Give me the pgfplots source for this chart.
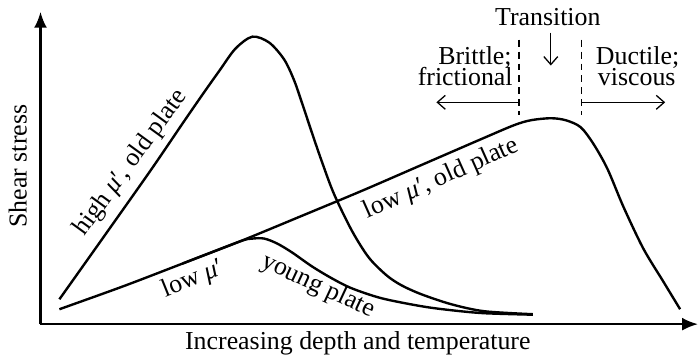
\documentclass[border=0pt]{standalone}
\usepackage{fontspec}
\setmainfont{Liberation Serif}
\usepackage{pgfplots}
\pgfplotsset{compat=1.18}
\usetikzlibrary{arrows.meta}
\begin{document}
\fontsize{13}{15.6}\selectfont
\begin{tikzpicture}[font=\fontsize{13}{15.6}\selectfont]
\begin{axis}[
  x=0.5pt, y=0.5pt,
  xmin=37, xmax=698, ymin=34, ymax=348,
  axis lines=left, ticks=none, clip=false,
  axis line style={line width=1.2pt, -{Latex[length=8pt,width=6.5pt]}},
  xlabel={Increasing depth and temperature},
  ylabel={Shear stress},
  xlabel style={at={(axis description cs:0.4826,-0.0796)}, anchor=base},
  ylabel style={at={(axis description cs:-0.0212,0.506)}, anchor=base},
]
\path (axis cs:0,0) rectangle (axis cs:700,357);
% high mu', old plate
\addplot[black, line width=1.2pt, smooth, tension=0.5] coordinates {
(56,59) (100,121) (148,189) (180,236) (200,265) (217,289) (233,311) (250,323)
(267,317) (282,300) (292,279) (300,256) (310,226) (320,197) (332,165) (350,128)
(367,101) (385,83) (400,73) (420,64) (450,54) (483,47) (532,44)};
% young plate
\addplot[black, line width=1.2pt, smooth, tension=0.5] coordinates {
(180,95) (237,117) (250,120) (262,120) (275,115) (290,106) (310,92) (330,80)
(350,70) (380,60) (420,52) (450,48) (483,45) (532,43.5)};
% low mu', old plate
\addplot[black, line width=1.2pt, smooth, tension=0.5] coordinates {
(56,49) (120,72) (180,95) (237,117) (300,143) (360,168) (420,194) (480,220)
(513,234) (530,239) (550,241) (565,239) (580,232) (593,215) (607,190) (623,152)
(643,110) (663,77) (680,49)};
% transition markers
\addplot[black, line width=0.65pt, dash pattern=on 3.5pt off 2.5pt] coordinates {(518,320) (518,244)};
\addplot[black, line width=0.65pt, dash pattern=on 3.5pt off 2.5pt] coordinates {(581,320) (581,244)};
\addplot[black, line width=0.65pt, -{Straight Barb[length=4pt,width=7pt]}] coordinates {(518,257) (435,257)};
\addplot[black, line width=0.65pt, -{Straight Barb[length=4pt,width=7pt]}] coordinates {(581,257) (665,257)};
\addplot[black, line width=0.65pt, -{Straight Barb[length=4pt,width=7pt]}] coordinates {(550,327) (550,294)};
% texts
\node[anchor=base] at (axis cs:547,334) {Transition};
\node[anchor=base east, inner sep=0pt] at (axis cs:511,295) {Brittle;};
\node[anchor=base east, inner sep=0pt] at (axis cs:512,274) {frictional};
\node[anchor=base west, inner sep=0pt] at (axis cs:595,295) {Ductile;};
\node[anchor=base west, inner sep=0pt] at (axis cs:597,274) {viscous};
\node[rotate=54] at (axis cs:128,196) {high \textit{μ}′, old plate};
\node[rotate=22] at (axis cs:190,79) {low \textit{μ}′};
\node[rotate=-25] at (axis cs:316,72) {young plate};
\node[rotate=24] at (axis cs:440,180) {low \textit{μ}′, old plate};
\end{axis}
\end{tikzpicture}
\end{document}
